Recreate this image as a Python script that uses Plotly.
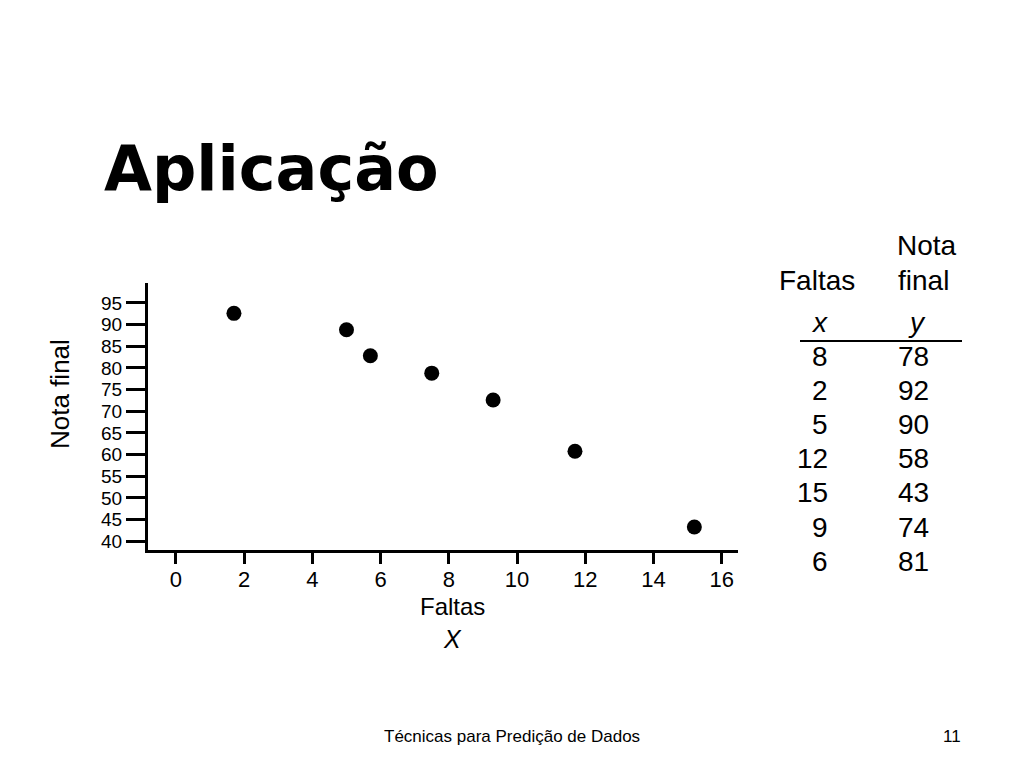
import plotly.graph_objects as go

# Scatter points as drawn in the chart
faltas_pts = [1.7, 5.0, 5.7, 7.5, 9.3, 11.7, 15.2]
nota_pts = [92.6, 88.8, 82.8, 78.8, 72.6, 60.8, 43.3]

# Table values
tabela_x = [8, 2, 5, 12, 15, 9, 6]
tabela_y = [78, 92, 90, 58, 43, 74, 81]

x_ticks = list(range(0, 17, 2))
y_ticks = list(range(40, 100, 5))

W, H = 1024, 768
OFF = 8  # page body margin
L, R, T, B = 148, 738, 283, 550  # target screen pixels of plot area


def px(x):
    return (x - L) / (R - L)


def py(y):
    return (B - y) / (B - T)


fig = go.Figure()
fig.add_trace(go.Scatter(
    x=faltas_pts, y=nota_pts, mode="markers",
    marker=dict(color="black", size=15, line=dict(width=0)),
    showlegend=False, hoverinfo="skip"))

font = "Liberation Sans, Arial, sans-serif"

fig.update_layout(
    width=W, height=H,
    margin=dict(l=L - OFF, r=W - R + OFF, t=T - OFF, b=H - B + OFF, pad=0),
    paper_bgcolor="white", plot_bgcolor="white",
    xaxis=dict(range=[-0.82, 16.48], tickvals=x_ticks, ticks="outside",
               ticklen=11, tickwidth=3, tickcolor="black", showline=True,
               linewidth=3, linecolor="black", showgrid=False, zeroline=False,
               ticklabelstandoff=-3,
               tickfont=dict(family=font, size=22, color="black")),
    yaxis=dict(range=[38.0, 99.6], tickvals=y_ticks, ticks="outside",
               ticklen=19, tickwidth=3, tickcolor="black", showline=True,
               linewidth=3, linecolor="black", showgrid=False, zeroline=False,
               tickfont=dict(family=font, size=19, color="black")),
)

ann = []


def add(text, x, y, size, xanchor="center", yanchor="middle", family=font, textangle=0):
    ann.append(dict(text=text, x=px(x), y=py(y), xref="paper", yref="paper",
                    showarrow=False, xanchor=xanchor, yanchor=yanchor,
                    textangle=textangle,
                    font=dict(family=family, size=size, color="black")))


add("<b>Aplicação</b>", 102, 168, 62, xanchor="left",
    family="DejaVu Sans, sans-serif")
add("Nota final", 60, 394, 26, textangle=-90)
add("Faltas", 452, 606, 24)
add("<i>X</i>", 452, 639, 25)

# table
add("Nota", 927, 245, 28)
add("final", 923, 280, 28)
add("Faltas", 817, 280, 28)
add("<i>x</i>", 819, 322, 28)
add("<i>y</i>", 917, 322, 28)
for i, (a, b) in enumerate(zip(tabela_x, tabela_y)):
    yy = 356 + 34.2 * i
    add(str(a), 830, yy, 28, xanchor="right")
    add(str(b), 913, yy, 28)

add("Técnicas para Predição de Dados", 512, 736, 17)
add("11", 952, 736, 17)

fig.update_layout(annotations=ann)
fig.add_shape(type="line", xref="paper", yref="paper",
              x0=px(800), x1=px(962), y0=py(341), y1=py(341),
              line=dict(color="black", width=2))

fig.write_html("out.html")
